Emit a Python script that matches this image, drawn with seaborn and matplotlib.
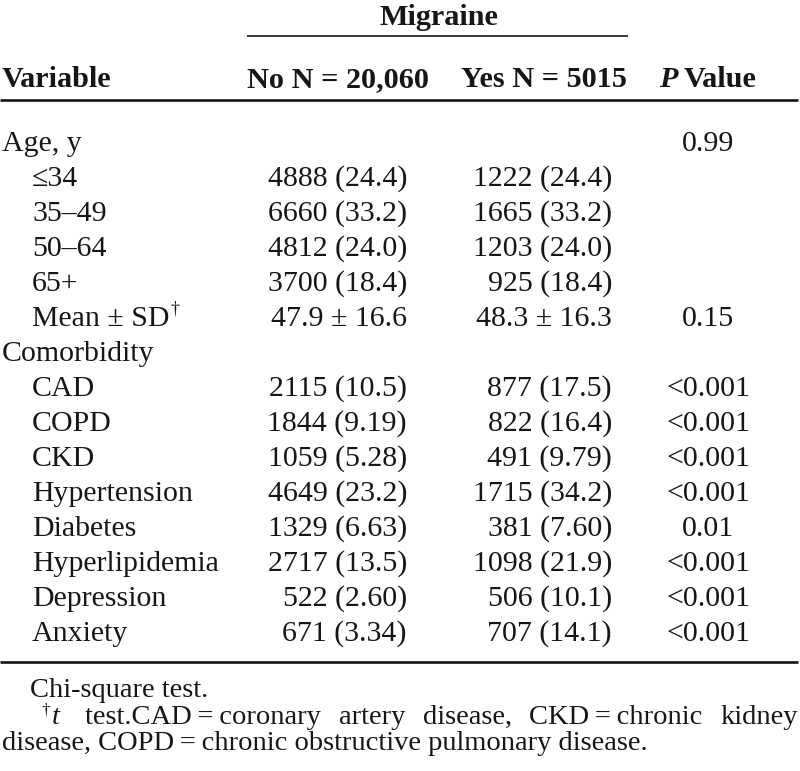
import matplotlib
matplotlib.use("Agg")
import matplotlib.pyplot as plt
import seaborn as sns

sns.set_theme(style="white")
plt.rcParams['font.family'] = ['Liberation Serif', 'DejaVu Serif']
plt.rcParams['mathtext.fontset'] = 'stix'

# ---------------- data ----------------
group_title = "Migraine"
col_headers = ["Variable", "No N = 20,060", "Yes N = 5015", "Value"]
variables = ["Age, y", "≤34", "35–49", "50–64", "65+", "Mean ± SD",
             "Comorbidity", "CAD", "COPD", "CKD", "Hypertension", "Diabetes",
             "Hyperlipidemia", "Depression", "Anxiety"]
indent = [0, 1, 1, 1, 1, 1, 0, 1, 1, 1, 1, 1, 1, 1, 1]
no_values = ["", "4888 (24.4)", "6660 (33.2)", "4812 (24.0)", "3700 (18.4)",
             "47.9 ± 16.6", "", "2115 (10.5)", "1844 (9.19)", "1059 (5.28)",
             "4649 (23.2)", "1329 (6.63)", "2717 (13.5)", "522 (2.60)", "671 (3.34)"]
yes_values = ["", "1222 (24.4)", "1665 (33.2)", "1203 (24.0)", "925 (18.4)",
              "48.3 ± 16.3", "", "877 (17.5)", "822 (16.4)", "491 (9.79)",
              "1715 (34.2)", "381 (7.60)", "1098 (21.9)", "506 (10.1)", "707 (14.1)"]
p_values = ["0.99", "", "", "", "", "0.15", "", "<0.001", "<0.001", "<0.001",
            "<0.001", "0.01", "<0.001", "<0.001", "<0.001"]
footnote1 = "Chi-square test."
footnote2_words = ["test.CAD\u2009=\u2009coronary", "artery", "disease,",
                   "CKD\u2009=\u2009chronic", "kidney"]
footnote3 = "disease, COPD\u2009=\u2009chronic obstructive pulmonary disease."

# ---------------- layout ----------------
W, H = 800, 771
fig = plt.figure(figsize=(W / 100, H / 100), dpi=100)
ax = fig.add_axes([0, 0, 1, 1])
ax.set_xlim(0, W)
ax.set_ylim(H, 0)
ax.axis('off')
sns.despine(ax=ax, left=True, bottom=True)

ink = '#161616'
fs = 21.5
hfs = 21.8
ffs = 20.5
r = fig.canvas.get_renderer()


def width(s, **kw):
    t = ax.text(0, 0, s, **kw)
    w = t.get_window_extent(renderer=r).width
    t.remove()
    return w


# group header
ax.text(439, 25, group_title, ha='center', va='baseline', fontsize=hfs,
        fontweight='bold', color=ink)
ax.plot([247, 628], [36, 36], color=ink, lw=1.2, solid_capstyle='butt')

# column headers
hb = 87
ax.text(2, hb, col_headers[0], ha='left', va='baseline', fontsize=hfs,
        fontweight='bold', color=ink)
ax.text(338, hb, col_headers[1], ha='center', va='baseline', fontsize=hfs,
        fontweight='bold', color=ink)
ax.text(544, hb, col_headers[2], ha='center', va='baseline', fontsize=hfs,
        fontweight='bold', color=ink)
wp = width("P ", fontsize=hfs, fontweight='bold', style='italic')
wv = width(col_headers[3], fontsize=hfs, fontweight='bold')
x0 = 708 - (wp + wv) / 2
ax.text(x0, hb, "P", ha='left', va='baseline', fontsize=hfs,
        fontweight='bold', style='italic', color=ink)
ax.text(x0 + wp, hb, col_headers[3], ha='left', va='baseline', fontsize=hfs,
        fontweight='bold', color=ink)
ax.plot([0, 798], [100, 100], color=ink, lw=1.9, solid_capstyle='butt')

# body
for i, var in enumerate(variables):
    yb = 151 + 35 * i
    x = 32 if indent[i] else 2
    t = ax.text(x, yb, var, ha='left', va='baseline', fontsize=fs, color=ink)
    if var.startswith("Mean"):
        bb = t.get_window_extent(renderer=r)
        ax.text(x + bb.width + 1, yb - 12, "†", ha='left', va='baseline',
                fontsize=fs * 0.6, color=ink)
    if no_values[i]:
        ax.text(407, yb, no_values[i], ha='right', va='baseline', fontsize=fs, color=ink)
    if yes_values[i]:
        ax.text(612, yb, yes_values[i], ha='right', va='baseline', fontsize=fs, color=ink)
    if p_values[i]:
        ax.text(708, yb, p_values[i], ha='center', va='baseline', fontsize=fs, color=ink)

ax.plot([0, 798], [662, 662], color=ink, lw=1.9, solid_capstyle='butt')

# footnotes
ax.text(30, 697, footnote1, ha='left', va='baseline', fontsize=ffs, color=ink)
fb2 = 724
ax.text(42, fb2 - 10, "†", ha='left', va='baseline', fontsize=ffs * 0.6, color=ink)
ax.text(52, fb2, "t", ha='left', va='baseline', fontsize=ffs, style='italic', color=ink)
ws = [width(w, fontsize=ffs) for w in footnote2_words]
start, end = 85, 798
gap = (end - start - sum(ws)) / (len(footnote2_words) - 1)
x = start
for w, wd in zip(footnote2_words, ws):
    ax.text(x, fb2, w, ha='left', va='baseline', fontsize=ffs, color=ink)
    x += wd + gap
ax.text(2, 750, footnote3, ha='left', va='baseline', fontsize=ffs, color=ink)

fig.savefig("out.png", dpi=100, facecolor='white')
